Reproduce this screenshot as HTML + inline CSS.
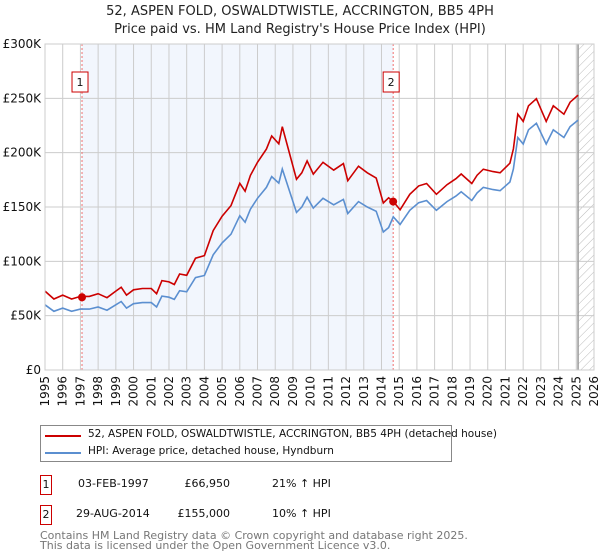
<!DOCTYPE html>
<html><head><meta charset="utf-8"><style>
body{margin:0;background:#fff;font-family:"DejaVu Sans","Liberation Sans",sans-serif;}
#wrap{position:relative;width:600px;height:560px;overflow:hidden;}
svg text{font-family:"DejaVu Sans","Liberation Sans",sans-serif;}
</style></head><body>
<div id="wrap">
<svg id="chart" width="600" height="560">
<defs><pattern id="hatch" width="6" height="6" patternUnits="userSpaceOnUse" patternTransform="rotate(45)"><line x1="0" y1="0" x2="0" y2="6" stroke="#bbb" stroke-width="1"/></pattern></defs>
<text x="300" y="15" text-anchor="middle" font-size="13" fill="#222">52, ASPEN FOLD, OSWALDTWISTLE, ACCRINGTON, BB5 4PH</text>
<text x="300" y="33" text-anchor="middle" font-size="13" fill="#222">Price paid vs. HM Land Registry's House Price Index (HPI)</text>
<g id="plot"></g>
</svg>
<div style="position:absolute;left:40px;top:425px;width:410px;height:35px;border:1px solid #888;font-size:10.5px;color:#111;">
 <div style="position:absolute;left:4px;top:9px;width:36px;height:2px;background:#cc0000"></div>
 <div style="position:absolute;left:47px;top:2px;white-space:nowrap">52, ASPEN FOLD, OSWALDTWISTLE, ACCRINGTON, BB5 4PH (detached house)</div>
 <div style="position:absolute;left:4px;top:26px;width:36px;height:2px;background:#5b8fd0"></div>
 <div style="position:absolute;left:47px;top:19px;white-space:nowrap">HPI: Average price, detached house, Hyndburn</div>
</div>
<div style="position:absolute;left:0;top:0;font-size:11px;color:#111;">
 <div style="position:absolute;left:40px;top:475px;width:10px;height:18px;border:1px solid #cc0000;text-align:center;line-height:18px">1</div>
 <div style="position:absolute;left:78px;top:477px;white-space:nowrap">03-FEB-1997</div>
 <div style="position:absolute;left:150px;width:80px;top:477px;text-align:right">£66,950</div>
 <div style="position:absolute;left:272px;top:477px;white-space:nowrap">21% ↑ HPI</div>
 <div style="position:absolute;left:40px;top:505px;width:10px;height:18px;border:1px solid #cc0000;text-align:center;line-height:18px">2</div>
 <div style="position:absolute;left:76px;top:507px;white-space:nowrap">29-AUG-2014</div>
 <div style="position:absolute;left:150px;width:80px;top:507px;text-align:right">£155,000</div>
 <div style="position:absolute;left:272px;top:507px;white-space:nowrap">10% ↑ HPI</div>
</div>
<div style="position:absolute;left:40px;top:531px;font-size:11px;line-height:10px;color:#777;white-space:nowrap">Contains HM Land Registry data © Crown copyright and database right 2025.<br>This data is licensed under the Open Government Licence v3.0.</div>
</div>
<script>
const yearTicks=[1995,1996,1997,1998,1999,2000,2001,2002,2003,2004,2005,2006,2007,2008,2009,2010,2011,2012,2013,2014,2015,2016,2017,2018,2019,2020,2021,2022,2023,2024,2025,2026];
const valueTicks=[0,50000,100000,150000,200000,250000,300000];
const valueLabels=["£0","£50K","£100K","£150K","£200K","£250K","£300K"];
const hpiYears=[1995,1995.5,1996,1996.5,1997,1997.5,1998,1998.5,1999,1999.3,1999.6,2000,2000.5,2001,2001.3,2001.6,2002,2002.3,2002.6,2003,2003.5,2004,2004.5,2005,2005.5,2006,2006.3,2006.6,2007,2007.5,2007.8,2008.2,2008.4,2008.8,2009.2,2009.5,2009.8,2010.15,2010.7,2011.3,2011.85,2012.1,2012.7,2013.2,2013.7,2014.1,2014.4,2014.67,2015.05,2015.6,2016.1,2016.55,2017.1,2017.7,2018.2,2018.5,2019.1,2019.4,2019.75,2020.3,2020.7,2021.25,2021.45,2021.7,2022.0,2022.3,2022.75,2023.3,2023.7,2024.3,2024.65,2025.1];
const hpiValues=[60000,54000,57000,54000,56000,56000,58000,55000,60000,63000,57000,61000,62000,62000,58000,68000,67000,65000,73000,72000,85000,87000,106000,117000,125000,142000,136000,148000,158000,168000,178000,172000,185000,165000,145000,150000,159000,149000,158000,152000,157000,144000,155000,150000,146000,127000,131000,141000,134000,147000,154000,156000,147000,155000,160000,164000,156000,163000,168000,166000,165000,173000,185000,214000,208000,221000,227000,208000,221000,214000,224000,230000];
const saleYears=[1997.09,2014.66];
const salePrices=[66950,155000];
const saleRatios=[1.21,1.10];
const X0=45,X1=594,Y0=370,Y1=44;
const xs=y=>X0+(y-1995)/(2026-1995)*(X1-X0);
const ys=v=>Y0-v/300000*(Y0-Y1);
const NS="http://www.w3.org/2000/svg";
const g=document.getElementById('plot');
function mk(t,a,p){const e=document.createElementNS(NS,t);for(const k in a)e.setAttribute(k,a[k]);(p||g).appendChild(e);return e;}
let r=mk('rect',{x:xs(saleYears[0]),y:Y1,width:xs(saleYears[1])-xs(saleYears[0]),height:Y0-Y1,fill:'#f2f6fd'});


const hx=xs(2025.1);
let h=mk('rect',{x:hx,y:Y1,width:X1-hx,height:Y0-Y1,fill:'url(#hatch)'});


yearTicks.forEach(yr=>{
 let l=mk('line',{x1:xs(yr),x2:xs(yr),y1:Y1,y2:Y0,stroke:'#ccc','stroke-width':1});
 
 
 let t=mk('text',{x:0,y:0,'font-size':12,fill:'#111','text-anchor':'end',transform:`translate(${xs(yr)+4},376) rotate(-90)`});
 t.textContent=yr;
 
 
});
valueTicks.forEach((v,i)=>{
 let l=mk('line',{x1:X0,x2:X1,y1:ys(v),y2:ys(v),stroke:'#ccc','stroke-width':1});
 
 
 let t=mk('text',{x:X0-4,y:ys(v)+4,'font-size':12,fill:'#111','text-anchor':'end'});
 t.textContent=valueLabels[i];
 
 
});
let hl=mk('line',{x1:hx,x2:hx,y1:Y1,y2:Y0,stroke:'#999','stroke-width':1.5});


saleYears.forEach((sy,i)=>{
 let l=mk('line',{x1:xs(sy),x2:xs(sy),y1:Y1,y2:Y0,stroke:'#f07070','stroke-width':1,'stroke-dasharray':'2,2'});
 
 
 let b=mk('rect',{x:xs(sy)-10,y:72,width:16,height:20,fill:'#fff',stroke:'#cc0000'});
 
 
 let t=mk('text',{x:xs(sy)-2,y:86,'font-size':11,fill:'#111','text-anchor':'middle'});
 t.textContent=i+1;
 
 
});
let bp=hpiYears.map((y,i)=>`${i?'L':'M'}${xs(y).toFixed(1)},${ys(hpiValues[i]).toFixed(1)}`).join('');
let bl=mk('path',{d:bp,fill:'none',stroke:'#5b8fd0','stroke-width':1.6});


let rp=hpiYears.map((y,i)=>{const ratio=y<saleYears[1]?saleRatios[0]:saleRatios[1];return `${i?'L':'M'}${xs(y).toFixed(1)},${ys(hpiValues[i]*ratio).toFixed(1)}`;}).join('');
let rl=mk('path',{d:rp,fill:'none',stroke:'#cc0000','stroke-width':1.6});


saleYears.forEach((sy,i)=>{
 let c=mk('circle',{cx:xs(sy),cy:ys(salePrices[i]),r:4,fill:'#cc0000'});
 
 
});
let fr=mk('rect',{x:X0,y:Y1,width:X1-X0,height:Y0-Y1,fill:'none',stroke:'#ccc'});


</script>
</body></html>
